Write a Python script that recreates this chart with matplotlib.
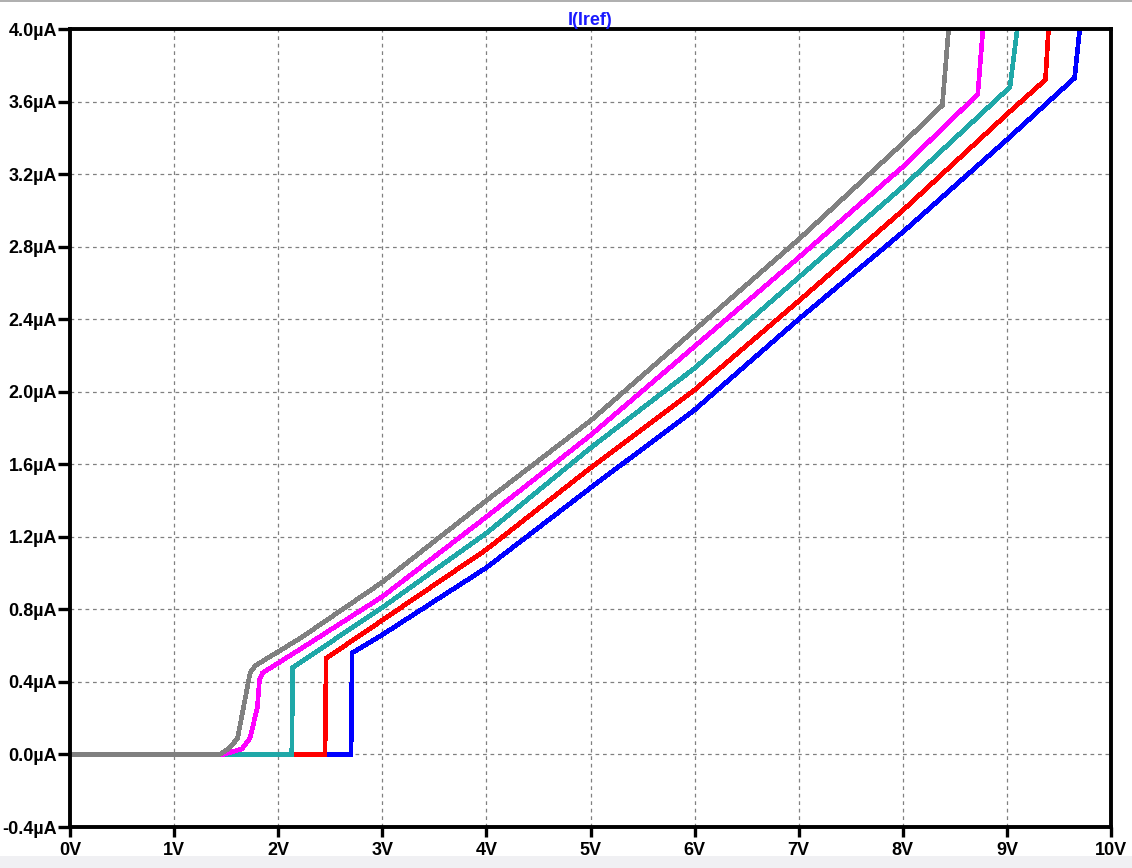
import numpy as np
import matplotlib
matplotlib.use('Agg')
import matplotlib.pyplot as plt
from matplotlib.patches import Rectangle

# curve data (V, uA)
blue_v = [0, 2.70, 2.71, 3.0, 4.0, 5.0, 6.0, 7.0, 8.0, 9.0, 9.65, 9.70, 9.72]
blue_i = [0, 0, 0.56, 0.66, 1.03, 1.47, 1.90, 2.40, 2.88, 3.39, 3.73, 4.0, 4.1]

red_v = [0, 2.45, 2.46, 3.0, 4.0, 5.0, 6.0, 7.0, 8.0, 9.0, 9.37, 9.40, 9.42]
red_i = [0, 0, 0.53, 0.74, 1.13, 1.58, 2.01, 2.50, 3.00, 3.53, 3.72, 4.0, 4.1]

cyan_v = [0, 2.13, 2.14, 3.0, 4.0, 5.0, 6.0, 7.0, 8.0, 9.03, 9.10, 9.12]
cyan_i = [0, 0, 0.48, 0.81, 1.22, 1.69, 2.13, 2.63, 3.13, 3.68, 4.0, 4.1]

magenta_v = [0, 1.47, 1.65, 1.73, 1.80, 1.82, 1.85, 2.21, 3.0, 4.0, 5.0, 6.0, 7.0, 8.0, 8.72, 8.77, 8.79]
magenta_i = [0, 0, 0.03, 0.09, 0.26, 0.41, 0.45, 0.58, 0.87, 1.31, 1.76, 2.25, 2.74, 3.24, 3.64, 4.0, 4.1]

gray_v = [0, 1.44, 1.54, 1.61, 1.68, 1.73, 1.78, 2.21, 3.0, 4.0, 5.0, 6.0, 7.0, 8.0, 8.38, 8.44, 8.46]
gray_i = [0, 0, 0.04, 0.09, 0.30, 0.45, 0.49, 0.64, 0.95, 1.40, 1.84, 2.34, 2.84, 3.37, 3.58, 4.0, 4.1]

x_ticks = list(range(0, 11))
y_ticks = [-0.4, 0.0, 0.4, 0.8, 1.2, 1.6, 2.0, 2.4, 2.8, 3.2, 3.6, 4.0]

curves = [
    (blue_v, blue_i, '#0000ff'),
    (red_v, red_i, '#ff0000'),
    (cyan_v, cyan_i, '#1fa8a8'),
    (magenta_v, magenta_i, '#ff00ff'),
    (gray_v, gray_i, '#808080'),
]

font = 'Liberation Sans'

fig = plt.figure(figsize=(11.32, 8.68), dpi=100)
fig.patch.set_facecolor('white')
# thin grey frame on top and pale strip at the bottom of the window
fig.patches.append(Rectangle((0, 0), 1, 12 / 868, transform=fig.transFigure,
                             facecolor='#f0f0f3', edgecolor='none', zorder=0))
fig.patches.append(Rectangle((0, 1 - 2 / 868), 1, 2 / 868, transform=fig.transFigure,
                             facecolor='#b0b0b0', edgecolor='none', zorder=0))

ax = fig.add_axes([70 / 1132, 1 - 827 / 868, (1111 - 70) / 1132, (827 - 29) / 868])

for v, i, c in curves:
    ax.plot(v, i, color=c, linewidth=2.6, solid_joinstyle='miter',
            antialiased=False, clip_on=True)

ax.set_xlim(0, 10)
ax.set_ylim(-0.4, 4.0)
ax.set_xticks(x_ticks)
ax.set_yticks(y_ticks)
ax.set_xticklabels([f'{v}V' for v in x_ticks])
ax.set_yticklabels([f'{v:.1f}\u00b5A' for v in y_ticks])

ax.grid(True, color='#808080', linestyle=(0, (3, 3)), linewidth=0.9)
for s in ax.spines.values():
    s.set_linewidth(2.8)
    s.set_color('black')

ax.tick_params(axis='y', direction='out', length=9, width=2.4, pad=0.5)
ax.tick_params(axis='x', direction='out', length=7, width=2.4, pad=3.5)
for lbl in ax.get_xticklabels() + ax.get_yticklabels():
    lbl.set_fontfamily(font)
    lbl.set_fontweight('bold')
    lbl.set_fontsize(13)

ax.set_title('I(Iref)', color='#1a1aff', fontweight='bold', fontsize=13,
             family=font, pad=3)

plt.savefig('out.png', dpi=100, facecolor=fig.get_facecolor())
